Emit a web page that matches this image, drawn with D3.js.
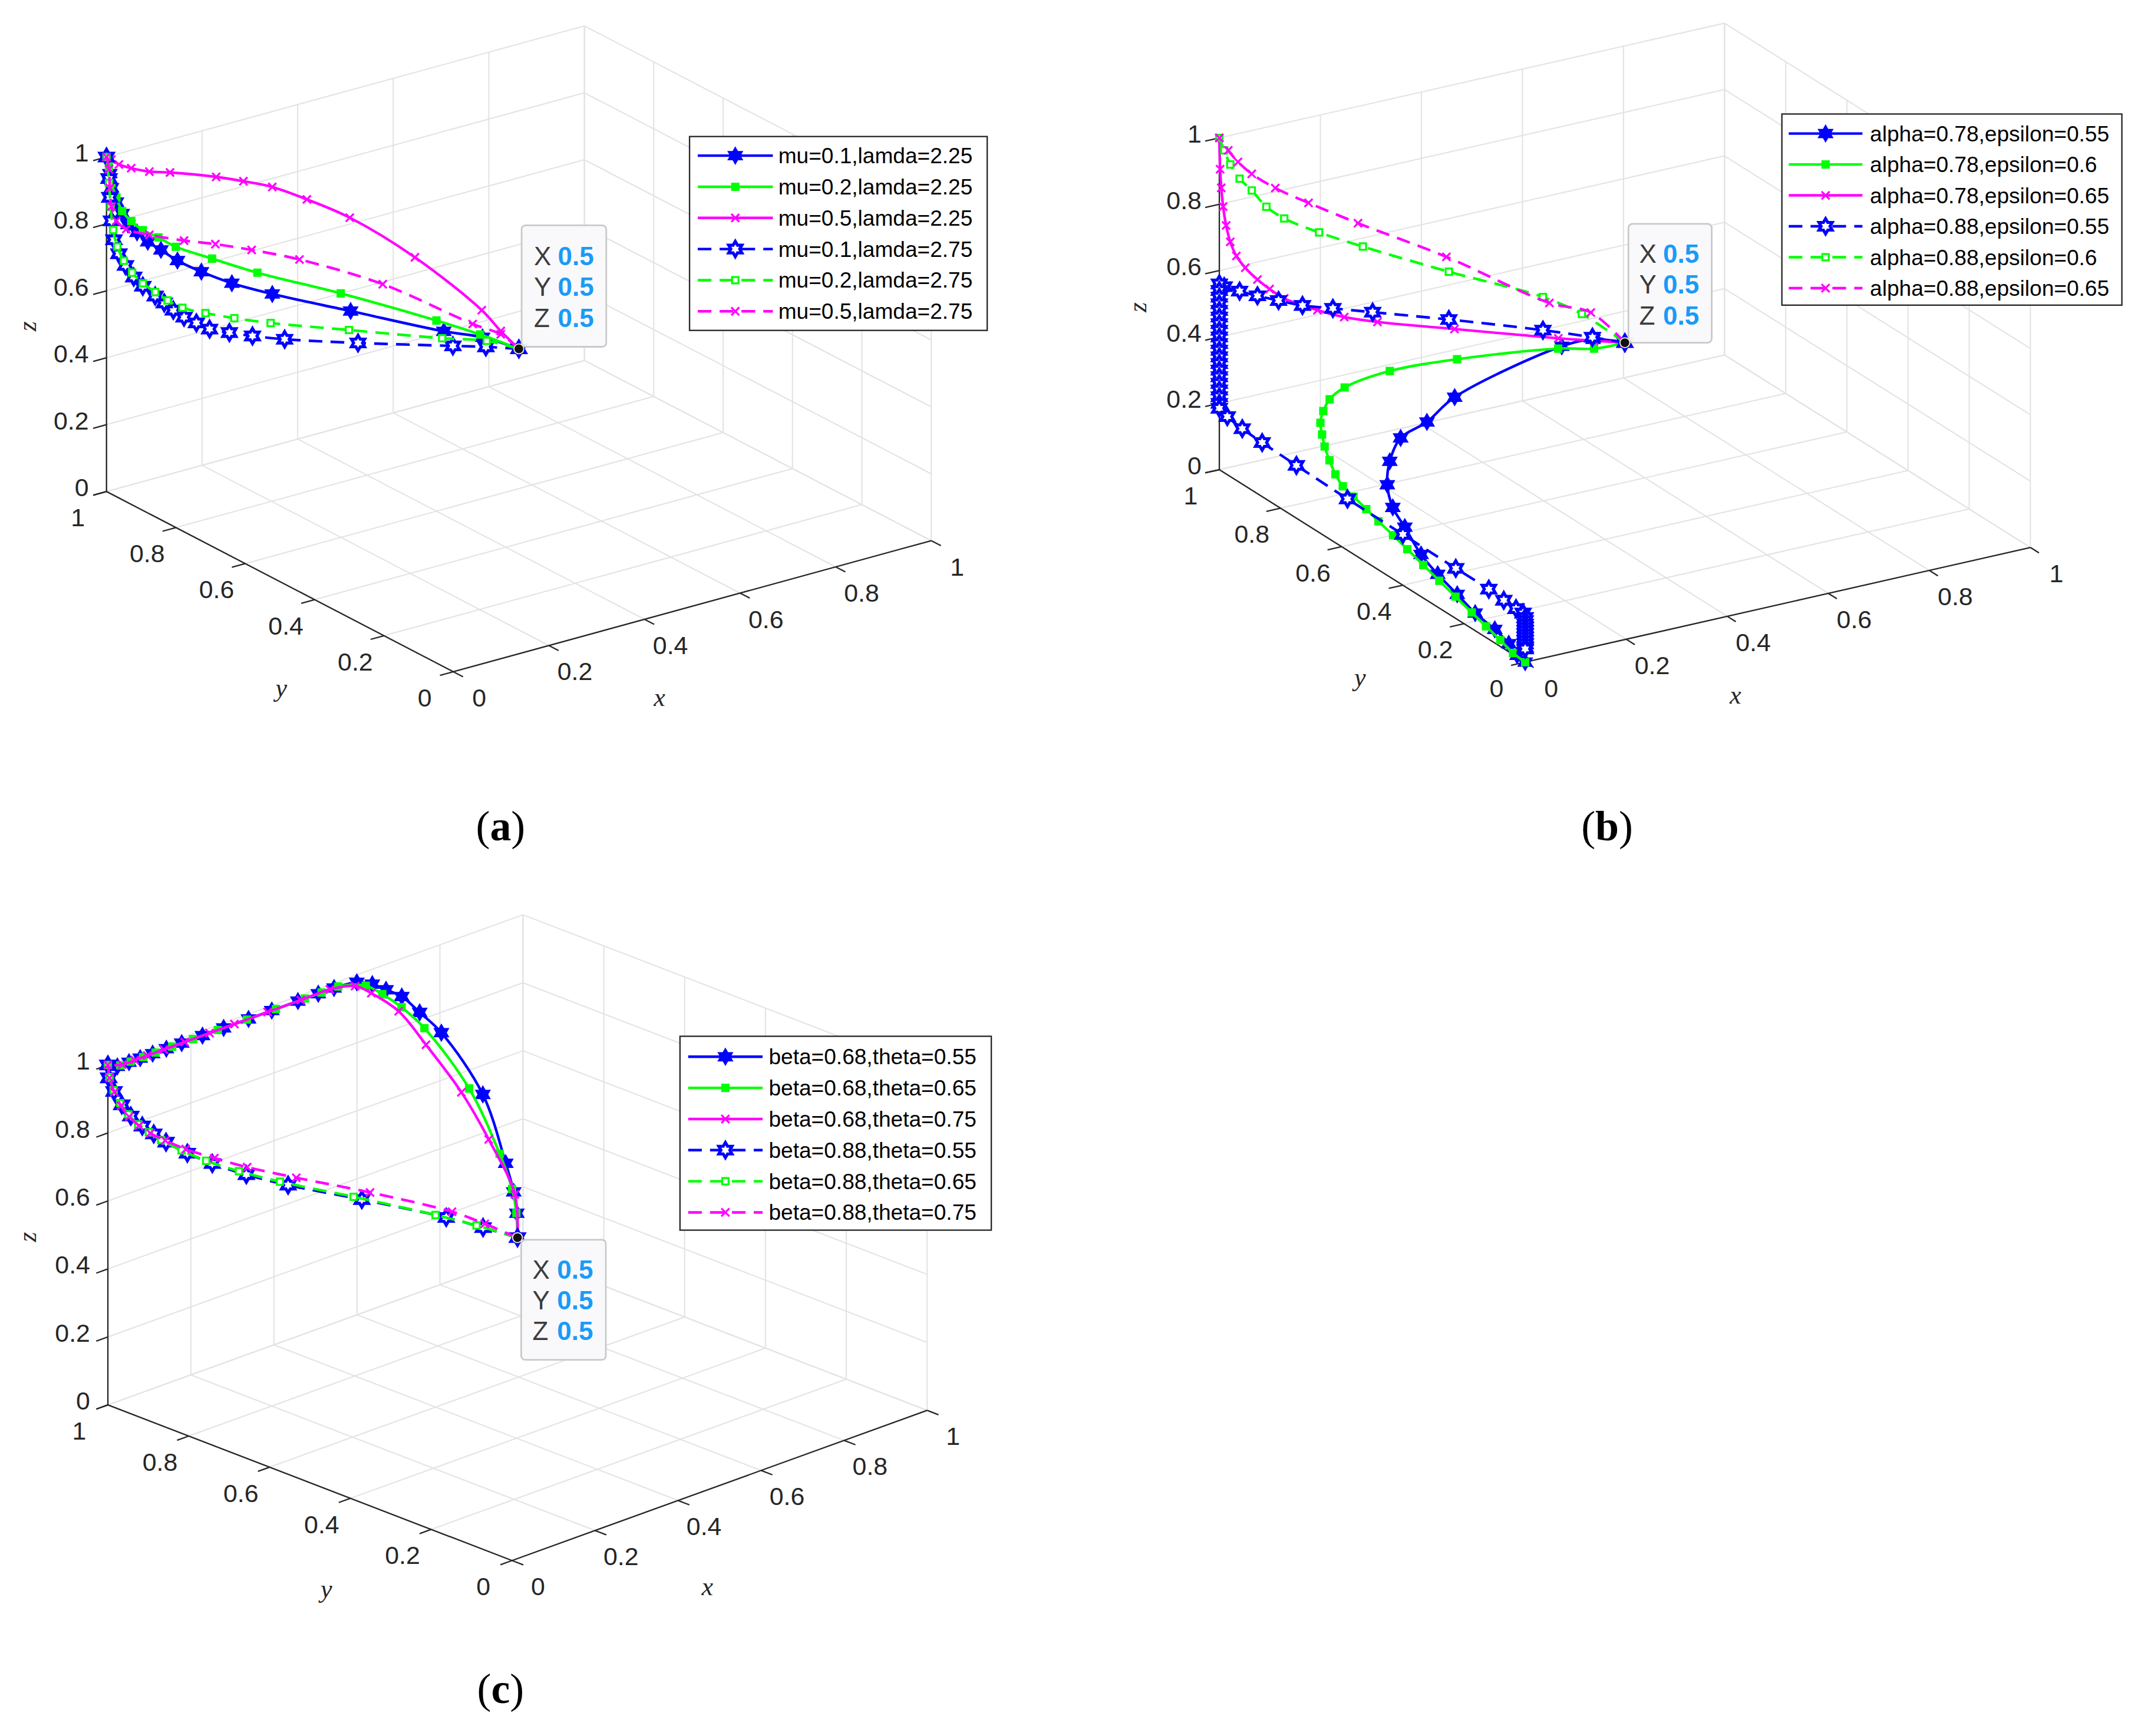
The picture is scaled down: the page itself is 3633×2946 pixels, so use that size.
<!DOCTYPE html>
<html>
<head>
<meta charset="utf-8">
<script src="https://cdn.jsdelivr.net/npm/d3@7"></script>
<style>
  html, body { margin: 0; padding: 0; background: #fff; }
  svg { display: block; }
</style>
</head>
<body>
<svg id="chart"></svg>
<script>
// tick values shared by all three axes
const tickValues = [0, 0.2, 0.4, 0.6, 0.8, 1];
const tickLabels = ["0", "0.2", "0.4", "0.6", "0.8", "1"];

// legend labels
const labelsA = ["mu=0.1,lamda=2.25", "mu=0.2,lamda=2.25", "mu=0.5,lamda=2.25",
                 "mu=0.1,lamda=2.75", "mu=0.2,lamda=2.75", "mu=0.5,lamda=2.75"];
const labelsB = ["alpha=0.78,epsilon=0.55", "alpha=0.78,epsilon=0.6", "alpha=0.78,epsilon=0.65",
                 "alpha=0.88,epsilon=0.55", "alpha=0.88,epsilon=0.6", "alpha=0.88,epsilon=0.65"];
const labelsC = ["beta=0.68,theta=0.55", "beta=0.68,theta=0.65", "beta=0.68,theta=0.75",
                 "beta=0.88,theta=0.55", "beta=0.88,theta=0.65", "beta=0.88,theta=0.75"];

// trajectories [x, y, z]
const a1 = [[.5,.5,.5],[.456,.544,.528],[.409,.591,.539],[.296,.704,.583],[.201,.799,.62],[.152,.848,.645],[.115,.885,.674],[.086,.914,.703],[.066,.934,.732],[.05,.95,.754],[.037,.963,.78],[.026,.974,.802],[.019,.981,.834],[.012,.988,.867],[.006,.994,.909],[.004,.996,.951],[0,1,1]];
const a2 = [[.5,.5,.5],[.453,.547,.536],[.4,.6,.57],[.284,.716,.634],[.183,.817,.681],[.128,.872,.715],[.084,.916,.744],[.063,.937,.769],[.044,.956,.788],[.03,.97,.813],[.019,.981,.841],[.012,.988,.881],[.006,.994,.923],[.003,.997,.972],[0,1,1]];
const a3 = [[.5,.5,.5],[.478,.522,.55],[.455,.545,.609],[.374,.626,.755],[.295,.705,.862],[.243,.757,.909],[.201,.799,.94],[.166,.834,.952],[.133,.867,.96],[.077,.923,.965],[.052,.948,.964],[.03,.97,.971],[.015,.985,.98],[.006,.994,.993],[0,1,1]];
const a4 = [[.5,.5,.5],[.46,.54,.5],[.42,.58,.497],[.305,.695,.489],[.216,.784,.487],[.177,.823,.491],[.149,.851,.497],[.125,.875,.504],[.109,.891,.52],[.094,.906,.535],[.081,.919,.554],[.07,.93,.574],[.059,.941,.593],[.044,.956,.62],[.033,.967,.646],[.023,.977,.679],[.015,.985,.713],[.009,.991,.754],[.006,.994,.81],[.004,.996,.88],[.003,.997,.936],[0,1,1]];
const a5 = [[.5,.5,.5],[.461,.539,.518],[.407,.593,.518],[.294,.706,.526],[.199,.801,.533],[.155,.845,.541],[.12,.88,.551],[.092,.908,.563],[.074,.926,.582],[.059,.941,.605],[.044,.956,.629],[.031,.969,.659],[.021,.979,.693],[.013,.987,.734],[.008,.992,.783],[.005,.995,.852],[.003,.997,.923],[0,1,1]];
const a6 = [[.5,.5,.5],[.478,.522,.54],[.444,.556,.566],[.335,.665,.669],[.234,.766,.728],[.176,.824,.748],[.132,.868,.759],[.094,.906,.764],[.052,.948,.775],[.024,.976,.788],[.012,.988,.811],[.006,.994,.853],[.004,.996,.908],[.003,.997,.964],[0,1,1]];

const b1 = [[.5,.5,.5],[.44,.505,.528],[.38,.508,.526],[.22,.594,.378],[.17,.602,.316],[.13,.622,.27],[.1,.608,.218],[.08,.583,.169],[.06,.532,.137],[.045,.468,.12],[.03,.39,.088],[.02,.319,.073],[.012,.242,.06],[.007,.175,.044],[.004,.106,.036],[.002,.057,.022],[.001,.028,.004],[0,0,0]];
const b2 = [[.5,.5,.5],[.45,.518,.489],[.4,.553,.486],[.26,.652,.445],[.18,.74,.386],[.13,.805,.316],[.11,.821,.278],[.095,.817,.25],[.085,.81,.222],[.075,.788,.203],[.068,.768,.181],[.06,.739,.159],[.053,.708,.137],[.047,.674,.123],[.041,.629,.12],[.036,.579,.113],[.031,.531,.106],[.026,.475,.098],[.022,.422,.088],[.018,.363,.076],[.014,.304,.064],[.011,.246,.051],[.008,.188,.038],[.006,.138,.026],[.004,.088,.014],[.002,.043,.002],[0,0,0]];
const b3 = [[.5,.5,.5],[.462,.538,.497],[.418,.582,.494],[.29,.71,.492],[.195,.805,.491],[.154,.846,.496],[.121,.879,.509],[.08,.92,.535],[.062,.938,.559],[.047,.953,.584],[.032,.968,.616],[.021,.979,.649],[.0135,.9865,.69],[.0084,.9916,.738],[.0047,.9953,.794],[.0024,.9976,.85],[.001,.999,.906],[0,1,1]];
const b4 = [[.5,.5,.5],[.46,.54,.507],[.399,.601,.514],[.283,.717,.519],[.189,.811,.519],[.14,.86,.519],[.1025,.8975,.519],[.073,.927,.527],[.047,.953,.535],[.025,.975,.544],[.006,.994,.553],[0,1,.56],
  [0,1,.54],[0,1,.52],[0,1,.5],[0,1,.48],[0,1,.46],[0,1,.44],[0,1,.42],[0,1,.4],[0,1,.38],[0,1,.36],[0,1,.34],[0,1,.32],[0,1,.3],[0,1,.28],[0,1,.26],[0,1,.24],[0,1,.22],[0,1,.2],[0,1,.185],
  [0,.974,.175],[0,.925,.167],[0,.86,.163],[0,.748,.159],[0,.581,.155],[0,.4,.153],[0,.227,.151],[0,.119,.151],[0,.07,.146],[0,.03,.144],[0,.007,.144],
  [0,0,.135],[0,0,.125],[0,0,.115],[0,0,.105],[0,0,.095],[0,0,.085],[0,0,.075],[0,0,.065],[0,0,.055],[0,0,.045],[0,0,.04]];
const b5 = [[.5,.5,.5],[.447,.553,.574],[.399,.601,.614],[.283,.717,.663],[.177,.823,.714],[.123,.877,.744],[.08,.92,.776],[.058,.942,.806],[.04,.96,.851],[.025,.975,.883],[.0135,.9865,.923],[.006,.994,.964],[0,1,1]];
const b6 = [[.5,.5,.5],[.458,.542,.581],[.407,.593,.598],[.28,.72,.707],[.171,.829,.783],[.11,.89,.83],[.069,.931,.865],[.04,.96,.901],[.023,.977,.933],[.011,.989,.965],[0,1,1]];

const c1 = [[.5,.5,.5],[.51,.512,.562],[.52,.53,.612],[.53,.56,.678],[.545,.632,.841],[.56,.75,.962],[.57,.814,.988],[.6,.889,.987],[.6,.928,.989],[.6,.962,.99],[.59,.99,.987],[.54,.995,.99],[.502,.995,.99],[.453,.995,.99],[.39,.995,.99],[.334,.995,.99],[.274,.995,.99],[.223,.995,.99],[.173,.995,.99],[.136,.995,.99],[.103,.995,.99],[.073,.995,.99],[.046,.995,.99],[.018,.995,.99],[0,1,1]];
const c2 = [[.5,.5,.5],[.51,.513,.562],[.52,.534,.619],[.53,.575,.699],[.545,.666,.843],[.56,.792,.956],[.575,.864,.978],[.59,.927,.981],[.59,.968,.987],[.55,.995,.99],[.51,.995,.99],[.47,.995,.99],[.4,.995,.99],[.33,.995,.99],[.26,.995,.99],[.2,.995,.99],[.15,.995,.99],[.11,.995,.99],[.08,.995,.99],[.05,.995,.99],[.025,.995,.99],[0,1,1]];
const c3 = [[.5,.5,.5],[.52,.527,.606],[.53,.602,.729],[.545,.685,.823],[.56,.788,.909],[.575,.871,.963],[.585,.949,.976],[.58,.984,.983],[.53,.995,.99],[.46,.995,.99],[.38,.995,.99],[.3,.995,.99],[.24,.995,.99],[.18,.995,.99],[.13,.995,.99],[.09,.995,.99],[.06,.995,.99],[.03,.995,.99],[0,1,1]];
const c4 = [[.5,.5,.5],[.458,.542,.529],[.413,.587,.558],[.31,.69,.609],[.22,.78,.65],[.169,.831,.68],[.1275,.8725,.712],[.097,.903,.742],[.071,.929,.774],[.056,.944,.798],[.042,.958,.821],[.028,.972,.85],[.017,.983,.883],[.0075,.9925,.922],[.001,.999,.962],[0,1,1]];
const c5 = [[.5,.5,.5],[.45,.55,.535],[.4,.6,.565],[.3,.7,.617],[.21,.79,.66],[.16,.84,.69],[.12,.88,.72],[.09,.91,.75],[.065,.935,.78],[.05,.95,.803],[.037,.963,.826],[.025,.975,.855],[.015,.985,.888],[.007,.993,.926],[.002,.998,.964],[0,1,1]];
const c6 = [[.5,.5,.5],[.46,.54,.54],[.42,.58,.575],[.32,.68,.63],[.23,.77,.672],[.17,.83,.702],[.13,.87,.728],[.095,.905,.754],[.07,.93,.779],[.052,.948,.8],[.038,.962,.822],[.026,.974,.848],[.016,.984,.88],[.008,.992,.92],[.002,.998,.962],[0,1,1]];

const tipPoint = [0.5, 0.5, 0.5];

// styles
const styles = [
  { color: "#0000ff", marker: "hex", dash: null },
  { color: "#00ff00", marker: "square", dash: null },
  { color: "#ff00ff", marker: "x", dash: null },
  { color: "#0000ff", marker: "hex", dash: "10,6" },
  { color: "#00ff00", marker: "square", dash: "10,6" },
  { color: "#ff00ff", marker: "x", dash: "10,6" }
];

// panel geometry in a 1568 x 1271.5 layout
const panels = [
  { o: [332, 492], xv: [350, -96], yv: [-254, -132], zv: [0, -245], series: [a1, a2, a3, a4, a5, a6], labels: labelsA,
    legend: { x: 505, y: 100, w: 218, h: 142, row0: 114, dy: 22.8, l1: 511, l2: 566, t: 570 },
    tip: { x: 382, y: 165, w: 62, h: 89, r0: 187.5, lx: 391, vx: 408.5 },
    titles: { x: [483, 511], y: [206, 504], z: [20, 239] }, caption: ["(", "a", ")", 366.6, 605] },
  { o: [1117, 485], xv: [370, -84], yv: [-224, -141], zv: [0, -243], series: [b1, b2, b3, b4, b5, b6], labels: labelsB,
    legend: { x: 1305, y: 83.5, w: 249, h: 140, row0: 97.8, dy: 22.65, l1: 1310, l2: 1364, t: 1369.5 },
    tip: { x: 1192.6, y: 164, w: 61, h: 87, r0: 185.8, lx: 1200.5, vx: 1218 },
    titles: { x: [1271, 509], y: [996, 496], z: [833, 225] }, caption: ["(", "b", ")", 1177, 605] },
  { o: [375, 1143], xv: [304, -110], yv: [-296, -114], zv: [0, -249], series: [c1, c2, c3, c4, c5, c6], labels: labelsC,
    legend: { x: 498, y: 759, w: 228, h: 142, row0: 774, dy: 22.8, l1: 504, l2: 558.5, t: 563 },
    tip: { x: 381.7, y: 908, w: 62, h: 88, r0: 929.7, lx: 390, vx: 408 },
    titles: { x: [518, 1162], y: [239, 1164], z: [20, 906] }, caption: ["(", "c", ")", 366.6, 1237] }
];

const W = 1568, H = 1271.5;
const svg = d3.select("#chart")
  .attr("width", 3633).attr("height", 2946)
  .attr("viewBox", `0 0 ${W} ${H}`);

const hexPath = r => {
  const pts = d3.range(12).map(i => {
    const a = -Math.PI / 2 + i * Math.PI / 6;
    const rr = i % 2 === 0 ? r : r * 0.577;
    return [rr * Math.cos(a), rr * Math.sin(a)];
  });
  return "M" + pts.join("L") + "Z";
};

const drawMarker = (g, st, x, y) => {
  const solid = !st.dash;
  if (st.marker === "hex") {
    g.append("path").attr("d", hexPath(5.6)).attr("transform", `translate(${x},${y})`)
      .attr("fill", solid ? st.color : "#fff").attr("stroke", st.color).attr("stroke-width", solid ? 1.2 : 2.2);
  } else if (st.marker === "square") {
    g.append("path").attr("d", d3.symbol(d3.symbolSquare, 22)()).attr("transform", `translate(${x},${y})`)
      .attr("fill", solid ? st.color : "#fff").attr("stroke", st.color).attr("stroke-width", 1.4);
  } else {
    g.append("path").attr("d", d3.symbol(d3.symbolX, 24)()).attr("transform", `translate(${x},${y})`)
      .attr("fill", "none").attr("stroke", st.color).attr("stroke-width", 1.4);
  }
};

panels.forEach(P => {
  const X = { h: d3.scaleLinear().domain([0, 1]).range([0, P.xv[0]]), v: d3.scaleLinear().domain([0, 1]).range([0, P.xv[1]]) };
  const Y = { h: d3.scaleLinear().domain([0, 1]).range([0, P.yv[0]]), v: d3.scaleLinear().domain([0, 1]).range([0, P.yv[1]]) };
  const Z = { h: d3.scaleLinear().domain([0, 1]).range([0, P.zv[0]]), v: d3.scaleLinear().domain([0, 1]).range([0, P.zv[1]]) };
  const proj = ([x, y, z]) => [P.o[0] + X.h(x) + Y.h(y) + Z.h(z), P.o[1] + X.v(x) + Y.v(y) + Z.v(z)];
  const g = svg.append("g");
  const seg = (p, q, color, w) => {
    const a = proj(p), b = proj(q);
    g.append("line").attr("x1", a[0]).attr("y1", a[1]).attr("x2", b[0]).attr("y2", b[1])
      .attr("stroke", color).attr("stroke-width", w);
  };

  // grid on floor and the two back walls
  const gc = "#e3e3e3";
  tickValues.forEach(k => {
    seg([k, 0, 0], [k, 1, 0], gc, 0.9);
    seg([0, k, 0], [1, k, 0], gc, 0.9);
    seg([k, 1, 0], [k, 1, 1], gc, 0.9);
    seg([0, 1, k], [1, 1, k], gc, 0.9);
    seg([1, k, 0], [1, k, 1], gc, 0.9);
    seg([1, 0, k], [1, 1, k], gc, 0.9);
  });

  // axes
  const ac = "#262626";
  seg([0, 0, 0], [1, 0, 0], ac, 1);
  seg([0, 0, 0], [0, 1, 0], ac, 1);
  seg([0, 1, 0], [0, 1, 1], ac, 1);
  const tl = 0.028;
  const fs = 18.5;
  tickValues.forEach((k, i) => {
    seg([k, 0, 0], [k, -tl, 0], ac, 1);
    seg([0, k, 0], [-tl, k, 0], ac, 1);
    seg([0, 1, k], [-tl, 1, k], ac, 1);
    const px = proj([k, 0, 0]);
    g.append("text").attr("x", px[0] + 19).attr("y", px[1] + 19).attr("text-anchor", "middle")
      .attr("dominant-baseline", "central").attr("font-size", fs).attr("fill", ac).text(tickLabels[i]);
    const py = proj([0, k, 0]);
    g.append("text").attr("x", py[0] - 21).attr("y", py[1] + 19).attr("text-anchor", "middle")
      .attr("dominant-baseline", "central").attr("font-size", fs).attr("fill", ac).text(tickLabels[i]);
    const pz = proj([0, 1, k]);
    g.append("text").attr("x", pz[0] - 13).attr("y", pz[1] - 3).attr("text-anchor", "end")
      .attr("dominant-baseline", "central").attr("font-size", fs).attr("fill", ac).text(tickLabels[i]);
  });

  // axis titles
  const tt = (pos, s, rot) => g.append("text")
    .attr("transform", `translate(${pos[0]},${pos[1]})` + (rot ? " rotate(-90)" : ""))
    .attr("text-anchor", "middle").attr("dominant-baseline", "central")
    .attr("font-family", "'Liberation Serif', 'DejaVu Serif', serif").attr("font-style", "italic")
    .attr("font-size", 19).attr("fill", ac).text(s);
  tt(P.titles.x, "x"); tt(P.titles.y, "y"); tt(P.titles.z, "z", true);

  // trajectories
  const line = d3.line().curve(d3.curveCatmullRom.alpha(0.5));
  P.series.forEach((s, i) => {
    const st = styles[i];
    const pts = s.map(proj);
    g.append("path").attr("d", line(pts)).attr("fill", "none").attr("stroke", st.color)
      .attr("stroke-width", 1.9).attr("stroke-dasharray", st.dash);
    pts.forEach(p => drawMarker(g, st, p[0], p[1]));
  });

  // data tip
  const tp = proj(tipPoint);
  const T = P.tip;
  g.append("rect").attr("x", T.x).attr("y", T.y).attr("width", T.w).attr("height", T.h).attr("rx", 3)
    .attr("fill", "#f9f9fb").attr("fill-opacity", 0.95).attr("stroke", "#c9c9cc").attr("stroke-width", 1.2);
  ["X", "Y", "Z"].forEach((k, j) => {
    const yy = T.r0 + j * 22.6;
    g.append("text").attr("x", T.lx).attr("y", yy).attr("dominant-baseline", "central")
      .attr("font-size", 19).attr("fill", "#3c3c3c").text(k);
    g.append("text").attr("x", T.vx).attr("y", yy).attr("dominant-baseline", "central")
      .attr("font-size", 19).attr("font-weight", "bold").attr("fill", "#1a9bf7").text(tipPoint[j]);
  });
  g.append("circle").attr("cx", tp[0]).attr("cy", tp[1]).attr("r", 3.6).attr("fill", "#111")
    .attr("stroke", "#f0f0c0").attr("stroke-width", 0.8);

  // legend
  const L = P.legend;
  g.append("rect").attr("x", L.x).attr("y", L.y).attr("width", L.w).attr("height", L.h)
    .attr("fill", "#fff").attr("stroke", "#262626").attr("stroke-width", 1);
  P.labels.forEach((lab, i) => {
    const st = styles[i];
    const yy = L.row0 + i * L.dy;
    g.append("line").attr("x1", L.l1).attr("x2", L.l2).attr("y1", yy).attr("y2", yy)
      .attr("stroke", st.color).attr("stroke-width", 1.9).attr("stroke-dasharray", st.dash);
    drawMarker(g, st, (L.l1 + L.l2) / 2, yy);
    g.append("text").attr("x", L.t).attr("y", yy).attr("dominant-baseline", "central")
      .attr("font-size", 16).attr("fill", "#000").text(lab);
  });

  // caption
  const cap = g.append("text").attr("x", P.caption[3]).attr("y", P.caption[4]).attr("text-anchor", "middle")
    .attr("dominant-baseline", "central").attr("font-family", "'Liberation Serif', 'DejaVu Serif', serif")
    .attr("font-size", 31).attr("fill", "#000");
  cap.append("tspan").text(P.caption[0]);
  cap.append("tspan").attr("font-weight", "bold").text(P.caption[1]);
  cap.append("tspan").text(P.caption[2]);
});

svg.selectAll("text").filter(function () { return !this.getAttribute("font-family"); })
  .attr("font-family", "'Liberation Sans', Arial, sans-serif");
</script>
</body>
</html>
